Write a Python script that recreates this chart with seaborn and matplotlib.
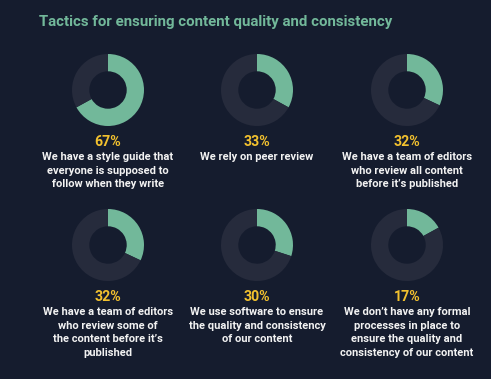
import matplotlib
matplotlib.use("Agg")
import matplotlib.pyplot as plt
import seaborn as sns

# Data
percents = [67, 33, 32, 32, 30, 17]
labels = [
    "We have a style guide that\neveryone is supposed to\nfollow when they write",
    "We rely on peer review",
    "We have a team of editors\nwho review all content\nbefore it\u2019s published",
    "We have a team of editors\nwho review some of\nthe content before it\u2019s\npublished",
    "We use software to ensure\nthe quality and consistency\nof our content",
    "We don\u2019t have any formal\nprocesses in place to\nensure the quality and\nconsistency of our content",
]
title = "Tactics for ensuring content quality and consistency"

BG = "#151c2e"
GREEN = "#72b89a"
RING = "#262b3c"
YELLOW = "#f2c12e"
WHITE = "#f2f2f2"

sns.set_style("dark")
plt.rcParams["font.family"] = ["Roboto", "DejaVu Sans"]

W, H = 491, 379
fig = plt.figure(figsize=(W / 100, H / 100), dpi=100, facecolor=BG)

# pixel layout helpers
col_x = [108, 257, 407]
row_y = [90, 245]
R = 36


def px(x, y):
    return x / W, 1 - y / H


fig.text(*px(39, 22), title, color=GREEN, fontsize=10.8, fontweight="bold",
         ha="left", va="center")

for i, (p, lab) in enumerate(zip(percents, labels)):
    cx = col_x[i % 3]
    cy = row_y[i // 3]
    left, bottom = px(cx - R, cy + R)
    ax = fig.add_axes([left, bottom, 2 * R / W, 2 * R / H])
    ax.pie([p, 100 - p], colors=[GREEN, RING], startangle=90, counterclock=False,
           radius=1, wedgeprops=dict(width=0.48, linewidth=0))
    ax.set_xlim(-1, 1)
    ax.set_ylim(-1, 1)
    ax.set_aspect("equal")
    ax.axis("off")

    fig.text(*px(cx, cy + 52), f"{p}%", color=YELLOW, fontsize=10.2,
             fontweight="bold", ha="center", va="center")
    for j, line in enumerate(lab.split("\n")):
        fig.text(*px(cx, cy + 67 + j * 13.6), line, color=WHITE, fontsize=8.0,
                 fontweight="bold", ha="center", va="center")

fig.savefig("out.png", dpi=100, facecolor=BG)
